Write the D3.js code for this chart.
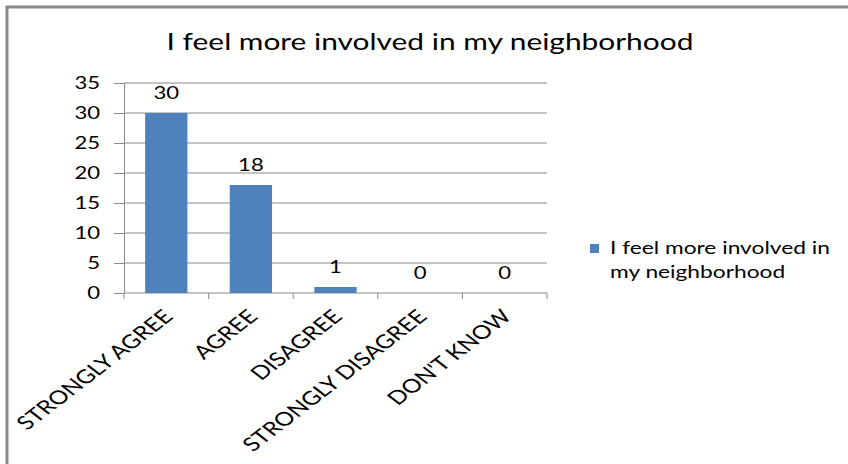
<!DOCTYPE html>
<html>
<head>
<meta charset="utf-8">
<script src="https://cdn.jsdelivr.net/npm/d3@7"></script>
<style>
  body { margin: 0; background: #fff; overflow: hidden; }
  svg { display: block; }
  text { font-family: Lato, "Open Sans", sans-serif; fill: #000; }
</style>
</head>
<body>
<div id="chart"></div>
<script>
// chart data
var categories = ["STRONGLY AGREE", "AGREE", "DISAGREE", "STRONGLY DISAGREE", "DON'T KNOW"];
var values = [30, 18, 1, 0, 0];
var yTicks = [0, 5, 10, 15, 20, 25, 30, 35];
var seriesName = "I feel more involved in my neighborhood";
var legendLines = ["I feel more involved in", "my neighborhood"];

var width = 848;
var height = 464;
var sx = 1.3; // the picture is stretched sideways

var svg = d3.select("#chart")
  .append("svg")
  .attr("width", width)
  .attr("height", height);

svg.append("rect")
  .attr("width", width)
  .attr("height", height)
  .attr("fill", "#fff");

// chart frame (left and top edges only)
svg.append("line")
  .attr("x1", 7).attr("y1", 6).attr("x2", 7).attr("y2", height)
  .attr("stroke", "#8a8a8a").attr("stroke-width", 3);
svg.append("line")
  .attr("x1", 6).attr("y1", 7).attr("x2", width).attr("y2", 7)
  .attr("stroke", "#8a8a8a").attr("stroke-width", 3);

var plot = {left: 124, right: 547, top: 83, bottom: 293};

var x = d3.scaleBand()
  .domain(categories)
  .range([plot.left, plot.right])
  .paddingInner(0.5)
  .paddingOuter(0.25);

var y = d3.scaleLinear()
  .domain([0, 35])
  .range([plot.bottom, plot.top]);

// helper for stretched text
function stretched(sel, px, py) {
  return sel.attr("transform", function(d, i) {
    return "translate(" + px(d, i) + "," + py(d, i) + ") scale(" + sx + ",1)";
  });
}

// title
stretched(svg.append("text").datum(seriesName), () => 430, () => 50)
  .attr("text-anchor", "middle")
  .attr("font-size", 23)
  .text(d => d);

// gridlines + y axis
var yAxis = svg.append("g")
  .attr("transform", "translate(" + plot.left + ",0)")
  .call(d3.axisLeft(y).tickValues(yTicks).tickSize(10).tickFormat(""));
yAxis.select(".domain").attr("stroke", "#8a8a8a");
yAxis.selectAll(".tick line").attr("stroke", "#8a8a8a");

svg.append("g")
  .selectAll("line")
  .data(yTicks.filter(d => d > 0))
  .join("line")
  .attr("x1", plot.left)
  .attr("x2", plot.right)
  .attr("y1", d => y(d))
  .attr("y2", d => y(d))
  .attr("stroke", "#8a8a8a");

stretched(svg.append("g").selectAll("text").data(yTicks).join("text"),
    () => 100, d => y(d) + 6)
  .attr("text-anchor", "end")
  .attr("font-size", 17)
  .text(d => d);

// x axis
var band = (plot.right - plot.left) / categories.length;
var xAxis = svg.append("g")
  .attr("transform", "translate(0," + plot.bottom + ")");
xAxis.append("line")
  .attr("x1", plot.left).attr("x2", plot.right)
  .attr("stroke", "#8a8a8a");
xAxis.selectAll(".xt")
  .data(d3.range(categories.length + 1))
  .join("line")
  .attr("class", "xt")
  .attr("x1", i => plot.left + i * band)
  .attr("x2", i => plot.left + i * band)
  .attr("y2", 6)
  .attr("stroke", "#8a8a8a");

// bars
svg.append("g")
  .attr("fill", "#4f81bd")
  .selectAll("rect")
  .data(values)
  .join("rect")
  .attr("x", (d, i) => x(categories[i]))
  .attr("y", d => y(d))
  .attr("width", x.bandwidth())
  .attr("height", d => y(0) - y(d));

// value labels
stretched(svg.append("g").selectAll("text").data(values).join("text"),
    (d, i) => x(categories[i]) + x.bandwidth() / 2, d => y(d) - 14)
  .attr("text-anchor", "middle")
  .attr("font-size", 17)
  .text(d => d);

// category labels (stretched sideways, then turned)
svg.append("g")
  .selectAll("text")
  .data(categories)
  .join("text")
  .attr("transform", d => "translate(" + (x(d) + x.bandwidth() / 2 + 2) + "," + (plot.bottom + 20) + ") scale(" + sx + ",1) rotate(-45)")
  .attr("text-anchor", "end")
  .attr("dy", "0.35em")
  .attr("font-size", 19)
  .text(d => d);

// legend
svg.append("rect")
  .attr("x", 590)
  .attr("y", 244)
  .attr("width", 9)
  .attr("height", 9)
  .attr("fill", "#4f81bd");

stretched(svg.append("g").selectAll("text").data(legendLines).join("text"),
    () => 610, (d, i) => 254 + i * 24)
  .attr("font-size", 17.5)
  .text(d => d);
</script>
</body>
</html>
